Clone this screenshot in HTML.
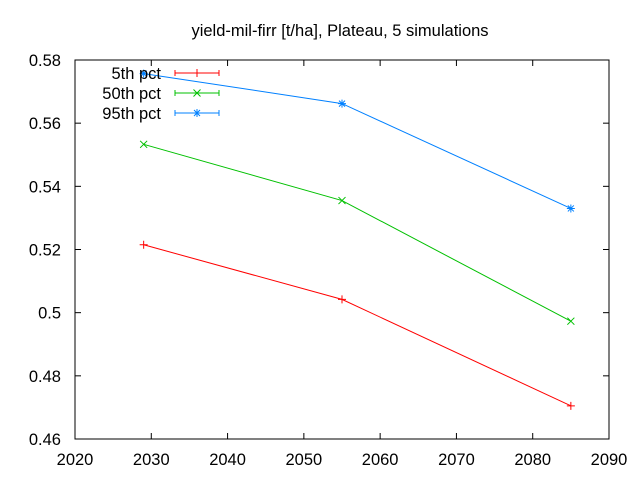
<!DOCTYPE html>
<html><head><meta charset="utf-8"><style>body{margin:0;background:#fff}svg{font-family:"Liberation Sans",sans-serif}</style></head>
<body>
<svg width="640" height="480" xmlns="http://www.w3.org/2000/svg">
<rect width="640" height="480" fill="#fff"/>
<text x="340" y="36" text-anchor="middle" font-size="16.5">yield-mil-firr [t/ha], Plateau, 5 simulations</text>
<g id="axes"></g>
<g id="series"></g>
<g id="legend"></g>
</svg>
<script>
const years=[2029,2055,2085];
const p5=[0.5215,0.5042,0.4705];
const p50=[0.5533,0.5355,0.4973];
const p95=[0.5757,0.5662,0.5330];
const xTicks=[2020,2030,2040,2050,2060,2070,2080,2090];
const yTicks=[0.46,0.48,0.50,0.52,0.54,0.56,0.58];
const yLabels=["0.46","0.48","0.5","0.52","0.54","0.56","0.58"];
const L=75,R=609,T=60,B=439;
const xs=v=>L+(v-2020)/70*(R-L);
const ys=v=>B-(v-0.46)/0.12*(B-T);
const NS="http://www.w3.org/2000/svg";
function mk(t,a,p){const e=document.createElementNS(NS,t);for(const k in a)e.setAttribute(k,a[k]);p.appendChild(e);return e;}
const ax=document.getElementById('axes');
const frame=mk('rect',{x:L,y:T,width:R-L,height:B-T,fill:'none',stroke:'#000','stroke-width':1},ax);


xTicks.forEach(v=>{const x=xs(v);
mk('line',{x1:x,y1:B,x2:x,y2:B-6,stroke:'#000'},ax);mk('line',{x1:x,y1:T,x2:x,y2:T+6,stroke:'#000'},ax);
const t=mk('text',{x:x,y:B+26,'text-anchor':'middle','font-size':16.5},ax);t.textContent=v;

});
yTicks.forEach((v,i)=>{const y=ys(v);
mk('line',{x1:L,y1:y,x2:L+6,y2:y,stroke:'#000'},ax);mk('line',{x1:R,y1:y,x2:R-6,y2:y,stroke:'#000'},ax);
const t=mk('text',{x:L-14,y:y+6,'text-anchor':'end','font-size':16.5},ax);t.textContent=yLabels[i];

});
function marker(g,x,y,type,c){
 if(type==='plus'){mk('path',{d:`M${x-4},${y}H${x+4}M${x},${y-4}V${y+4}`,stroke:c,fill:'none'},g);}
 else if(type==='x'){mk('path',{d:`M${x-3.5},${y-3.5}L${x+3.5},${y+3.5}M${x-3.5},${y+3.5}L${x+3.5},${y-3.5}`,stroke:c,fill:'none'},g);}
 else {mk('path',{d:`M${x-4},${y}H${x+4}M${x},${y-4}V${y+4}M${x-3},${y-3}L${x+3},${y+3}M${x-3},${y+3}L${x+3},${y-3}`,stroke:c,fill:'none'},g);}
}
const series=[["5th pct",p5,'#ff0000','plus','series-5th-pct'],["50th pct",p50,'#00c000','x','series-50th-pct'],["95th pct",p95,'#0080ff','star','series-95th-pct']];
const sg=document.getElementById('series'),lg=document.getElementById('legend');
series.forEach((s,i)=>{
 const g=mk('g',{},sg);
 
 
 const pts=years.map((yr,j)=>xs(yr)+','+ys(s[1][j])).join(' ');
 mk('polyline',{points:pts,fill:'none',stroke:s[2],'stroke-width':1},g);
 years.forEach((yr,j)=>marker(g,xs(yr),ys(s[1][j]),s[3],s[2]));
 const ly=73+i*20;
 const le=mk('g',{},lg);
 
 
 const t=mk('text',{x:161,y:ly+6,'text-anchor':'end','font-size':16.5},le);t.textContent=s[0];
 mk('path',{d:`M175,${ly}H219M175,${ly-3}V${ly+3}M219,${ly-3}V${ly+3}`,stroke:s[2],fill:'none'},le);
 marker(le,197,ly,s[3],s[2]);
});
</script>
</body></html>
